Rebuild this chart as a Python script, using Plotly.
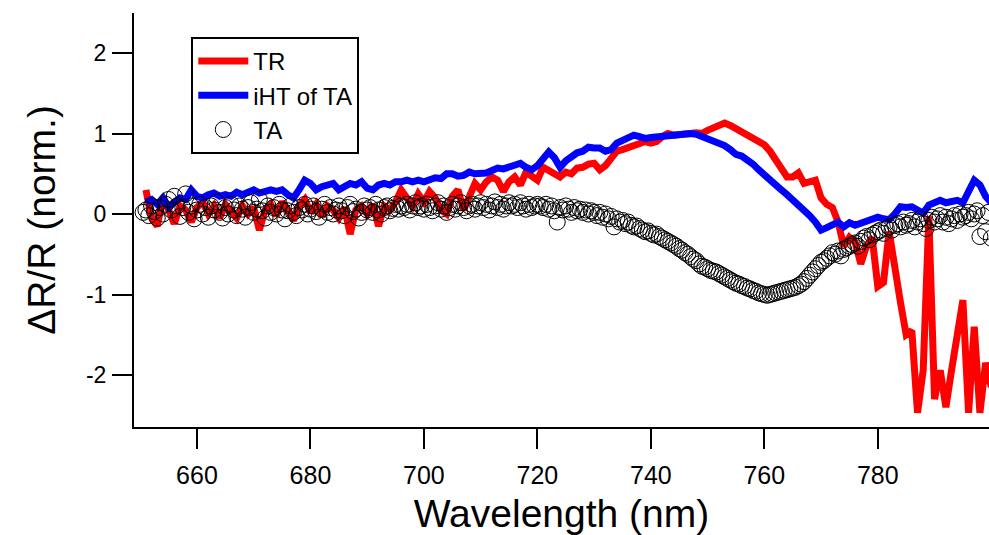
import plotly.graph_objects as go

# wavelength grids (nm)
wl_lines = list(range(651, 801))
wl_ta = [650.5 + 0.5 * i for i in range(300)]

# TR (transient reflectance), normalised
tr = [
    0.30, -0.05, -0.15, 0.20, 0.05, -0.12, 0.10, 0.05, -0.10, 0.08,
    0.15, 0.00, 0.10, -0.05, 0.12, 0.02, -0.05, 0.10, 0.00, 0.08,
    -0.20, 0.05, 0.12, -0.02, 0.15, 0.05, -0.08, 0.10, 0.18, 0.02,
    0.12, -0.03, 0.10, 0.05, -0.05, 0.08, -0.25, 0.05, 0.10, 0.00,
    0.12, -0.15, 0.10, 0.05, 0.15, 0.30, 0.20, 0.10, 0.25, 0.15,
    0.28, 0.20, 0.05, 0.00, 0.22, 0.30, 0.05, 0.20, 0.38, 0.30,
    0.40, 0.46, 0.42, 0.28, 0.40, 0.46, 0.36, 0.52, 0.48, 0.42,
    0.58, 0.55, 0.50, 0.46, 0.52, 0.50, 0.57, 0.58, 0.62, 0.63,
    0.55, 0.60, 0.71, 0.78, 0.80, 0.82, 0.84, 0.86, 0.90, 0.88,
    0.90, 0.96, 1.00, 0.98, 0.98, 1.00, 1.00, 1.01, 1.00, 1.04,
    1.07, 1.08, 1.13, 1.10, 1.06, 1.04, 1.00, 0.96, 0.92, 0.86,
    0.78, 0.68, 0.56, 0.46, 0.46, 0.51, 0.38, 0.40, 0.42, 0.20,
    0.12, 0.08, -0.10, -0.40, -0.29, -0.35, -0.62, -0.40, -0.29, -0.90,
    -0.85, -0.22, -0.70, -1.10, -1.50, -1.45, -2.47, -1.94, -0.03, -2.30,
    -1.94, -2.40, -1.94, -1.50, -1.07, -2.47, -1.40, -2.47, -1.85, -2.15,
]

# inverse Hilbert transform of TA
iht = [
    0.15, 0.18, 0.12, 0.20, 0.09, 0.14, 0.20, 0.18, 0.30, 0.22,
    0.20, 0.24, 0.26, 0.22, 0.24, 0.22, 0.27, 0.24, 0.28, 0.30,
    0.26, 0.27, 0.30, 0.28, 0.30, 0.24, 0.20, 0.30, 0.42, 0.38,
    0.30, 0.34, 0.36, 0.38, 0.30, 0.34, 0.38, 0.36, 0.40, 0.32,
    0.30, 0.36, 0.38, 0.36, 0.40, 0.40, 0.42, 0.40, 0.42, 0.40,
    0.42, 0.45, 0.44, 0.50, 0.50, 0.47, 0.48, 0.52, 0.50, 0.50,
    0.51, 0.54, 0.57, 0.56, 0.58, 0.60, 0.63, 0.58, 0.55, 0.60,
    0.67, 0.77, 0.70, 0.58, 0.66, 0.72, 0.76, 0.78, 0.83, 0.82,
    0.82, 0.78, 0.80, 0.88, 0.92, 0.96, 0.98, 0.96, 0.94, 0.95,
    0.96, 0.97, 0.96, 0.97, 0.99, 1.00, 1.00, 0.99, 0.96, 0.94,
    0.92, 0.88, 0.85, 0.80, 0.74, 0.72, 0.68, 0.62, 0.55, 0.48,
    0.42, 0.35, 0.30, 0.24, 0.18, 0.12, 0.04, -0.02, -0.10, -0.20,
    -0.17, -0.14, -0.10, -0.16, -0.11, -0.14, -0.12, -0.10, -0.08, -0.04,
    -0.06, -0.07, 0.00, 0.09, 0.08, 0.09, 0.05, 0.01, 0.11, 0.15,
    0.17, 0.14, 0.15, 0.17, 0.14, 0.30, 0.42, 0.36, 0.22, 0.14,
]

# TA (transient absorption), normalised
ta = [
    0.02, 0.05, -0.02, 0.10, 0.03, -0.05, 0.08, 0.00, 0.12, 0.18,
    0.05, 0.22, 0.10, -0.03, 0.08, 0.25, 0.02, 0.10, -0.06, 0.05,
    0.12, 0.00, 0.08, -0.04, 0.10, 0.05, 0.15, 0.02, -0.05, 0.08,
    0.00, 0.12, 0.05, -0.02, 0.10, 0.06, -0.04, 0.08, 0.14, 0.02,
    0.06, 0.18, 0.04, -0.05, 0.10, 0.02, 0.08, 0.00, 0.12, 0.05,
    -0.06, 0.04, 0.10, 0.02, -0.02, 0.08, 0.05, 0.12, 0.00, 0.06,
    0.10, 0.03, -0.04, 0.06, 0.12, 0.02, 0.08, 0.00, 0.05, 0.10,
    0.04, -0.02, 0.08, 0.12, 0.03, 0.06, -0.05, 0.02, 0.10, 0.05,
    0.08, 0.02, 0.12, 0.05, 0.00, 0.08, 0.10, 0.04, 0.07, 0.12,
    0.06, 0.10, 0.08, 0.12, 0.05, 0.10, 0.14, 0.08, 0.10, 0.06,
    0.12, 0.08, 0.04, 0.10, 0.14, 0.06, 0.10, 0.02, 0.08, 0.12,
    0.06, 0.10, 0.14, 0.08, 0.04, 0.10, 0.12, 0.06, 0.10, 0.14,
    0.08, 0.12, 0.05, 0.10, 0.15, 0.08, 0.12, 0.06, 0.10, 0.14,
    0.10, 0.12, 0.08, 0.14, 0.10, 0.06, 0.12, 0.08, 0.10, 0.12,
    0.10, 0.08, 0.12, 0.06, 0.10, 0.04, -0.10, 0.08, 0.05, 0.10,
    0.06, 0.02, 0.08, 0.04, 0.06, 0.02, 0.05, 0.00, 0.04, 0.02,
    -0.02, 0.02, -0.04, 0.00, -0.06, -0.03, -0.16, -0.06, -0.10, -0.08,
    -0.12, -0.10, -0.14, -0.16, -0.15, -0.18, -0.20, -0.22, -0.21, -0.24,
    -0.26, -0.25, -0.28, -0.30, -0.32, -0.34, -0.36, -0.38, -0.40, -0.43,
    -0.45, -0.48, -0.50, -0.53, -0.56, -0.58, -0.62, -0.65, -0.66, -0.68,
    -0.70, -0.71, -0.72, -0.74, -0.76, -0.78, -0.80, -0.82, -0.84, -0.86,
    -0.87, -0.89, -0.90, -0.92, -0.93, -0.95, -0.96, -0.98, -0.99, -1.00,
    -1.01, -1.00, -0.99, -0.98, -0.97, -0.96, -0.95, -0.94, -0.93, -0.92,
    -0.91, -0.89, -0.87, -0.84, -0.80, -0.76, -0.72, -0.68, -0.64, -0.60,
    -0.58, -0.55, -0.52, -0.48, -0.50, -0.46, -0.52, -0.44, -0.42, -0.40,
    -0.38, -0.36, -0.40, -0.34, -0.30, -0.28, -0.32, -0.26, -0.24, -0.22,
    -0.20, -0.24, -0.18, -0.16, -0.20, -0.14, -0.12, -0.16, -0.10, -0.14,
    -0.12, -0.08, -0.16, -0.10, -0.06, -0.12, -0.18, -0.08, -0.04, -0.10,
    -0.06, -0.02, -0.10, -0.04, -0.12, -0.06, -0.02, -0.08, 0.00, -0.04,
    -0.02, 0.02, -0.06, 0.00, 0.04, -0.28, -0.02, -0.22, 0.02, -0.30,
]

x_ticks = [660, 680, 700, 720, 740, 760, 780]
y_ticks = [-2, -1, 0, 1, 2]
y_ticktext = ["-2", "-1", "0", "1", "2"]

font_name = "Liberation Sans, Arial, sans-serif"

fig = go.Figure()

fig.add_trace(go.Scatter(
    x=wl_lines, y=tr, mode="lines", name="TR",
    line=dict(color="#ff0000", width=7),
))
fig.add_trace(go.Scatter(
    x=wl_lines, y=iht, mode="lines", name="iHT of TA",
    line=dict(color="#0000ff", width=7),
))
fig.add_trace(go.Scatter(
    x=wl_ta, y=ta, mode="markers", name="TA",
    marker=dict(symbol="circle-open", size=16, color="black", line=dict(width=1)),
))

fig.update_layout(
    width=989,
    height=535,
    margin=dict(l=134, r=0, t=13, b=108),
    paper_bgcolor="white",
    plot_bgcolor="white",
    font=dict(family=font_name, color="black"),
    showlegend=True,
    legend=dict(
        x=0.067, y=0.942, xanchor="left", yanchor="top",
        bordercolor="black", borderwidth=2, bgcolor="white",
        font=dict(size=24), tracegroupgap=0, itemwidth=50,
    ),
    xaxis=dict(
        range=[648.9, 799.6],
        tickvals=x_ticks,
        showgrid=False, zeroline=False,
        showline=True, linecolor="black", linewidth=2,
        ticks="outside", ticklen=20, tickwidth=2, tickcolor="black",
        tickfont=dict(size=25),
        ticklabelstandoff=5,
        title=dict(text="Wavelength (nm)", font=dict(size=39), standoff=16),
    ),
    yaxis=dict(
        range=[-2.646, 2.497],
        tickvals=y_ticks,
        ticktext=y_ticktext,
        showgrid=False, zeroline=False,
        showline=True, linecolor="black", linewidth=2,
        ticks="outside", ticklen=20, tickwidth=2, tickcolor="black",
        tickfont=dict(size=23),
        ticklabelstandoff=1,
        title=dict(text="ΔR/R (norm.)", font=dict(size=39), standoff=18),
    ),
)

# drop the default 8px page margin so the figure sits flush in the window
fig.write_html(
    "out.html",
    config={"displayModeBar": False},
    post_script="document.body.style.margin='0';document.body.style.overflow='hidden';",
)
